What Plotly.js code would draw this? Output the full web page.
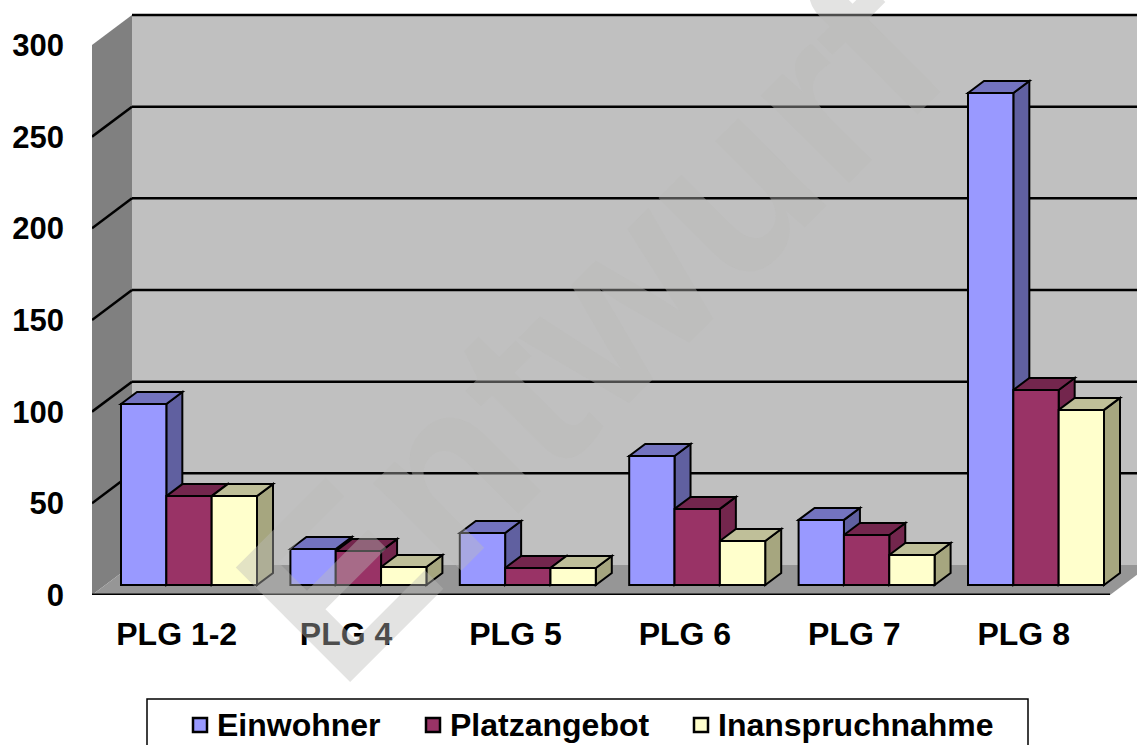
<!DOCTYPE html>
<html><head><meta charset="utf-8">
<script src="https://cdn.plot.ly/plotly-3.0.1.min.js"></script>
<style>html,body{margin:0;padding:0;background:#fff;overflow:hidden;width:1137px;height:745px}#c{width:1137px;height:800px}</style>
</head><body><div id="c"></div>
<script>
const categories = ['PLG 1-2','PLG 4','PLG 5','PLG 6','PLG 7','PLG 8'];
const einwohner = [98.7,19.6,28.4,70.4,35.5,268.4];
const platzangebot = [48.5,18.5,9.3,41.5,27.3,106.4];
const inanspruchnahme = [48.5,9.8,9.3,24,16.4,95.5];
const yTicks = [0,50,100,150,200,250,300];
const seriesNames = ['Einwohner','Platzangebot','Inanspruchnahme'];
const frontColors = ['#9999ff','#993366','#ffffcc'];
const topColors = ['#7373bf','#73264d','#bfbf99'];
const sideColors = ['#6060a0','#73264d','#a6a67f'];
const allSeries = [einwohner,platzangebot,inanspruchnahme];
const legendSwatchX = [192,425,693];
const legendTextX = [216,449,717];

// geometry (pixels on the page -> axis units)
const W=1137,H=800,L=92,B=595;
const catPx=169.4, valPx=550/300;
const xRange=[-0.5,-0.5+(W-L)/catPx], yRange=[0,B/valPx];
const shiftX=12.3/catPx, shiftY=10/valPx;
const x2Range=[xRange[0]-shiftX,xRange[1]-shiftX], y2Range=[-shiftY,yRange[1]-shiftY];
const wallDx=40/catPx, wallDy=30/valPx;
const barDx=16/catPx, barDy=12/valPx;
const barW=(136/catPx)/3;

const path=p=>'M'+p.map(q=>q[0]+','+q[1]).join('L')+'Z';
const shapes=[];
const poly=(pts,fill,xref,yref,lw,lc)=>shapes.push({type:'path',path:path(pts),xref,yref,fillcolor:fill,layer:'below',line:{width:lw||0,color:lc||'rgba(0,0,0,0)'}});
const xL=xRange[0], xR=xL+1018/catPx, xFar=xR+wallDx;
// back wall, side wall, floor
poly([[xL+wallDx,wallDy],[xFar,wallDy],[xFar,300+wallDy],[xL+wallDx,300+wallDy]],'#c0c0c0','x','y');
poly([[xL,0],[xL+wallDx,wallDy],[xL+wallDx,300+wallDy],[xL,300]],'#808080','x','y');
poly([[xL,0],[xR,0],[xFar,wallDy],[xL+wallDx,wallDy]],'#969696','x','y');
// gridlines
yTicks.slice(1).forEach(v=>{
  shapes.push({type:'line',layer:'below',xref:'x',yref:'y',x0:xL+wallDx,x1:xFar,y0:v+wallDy,y1:v+wallDy,line:{color:'#000',width:2.5}});
  if(v<300) shapes.push({type:'line',layer:'below',xref:'x',yref:'y',x0:xL,x1:xL+wallDx,y0:v,y1:v+wallDy,line:{color:'#000',width:2.5}});
});
shapes.push({type:'line',layer:'below',xref:'x',yref:'y',x0:xL,x1:xR,y0:0,y1:0,line:{color:'#000',width:3}});
// 3D faces of the bars, computed from values
categories.forEach((c,i)=>{
  allSeries.forEach((s,j)=>{
    const x0=i+(j-1.5)*barW, x1=x0+barW, v=s[i];
    poly([[x1,v],[x1+barDx,v+barDy],[x1+barDx,barDy],[x1,0]],sideColors[j],'x2','y2',2,'#000');
    poly([[x0,v],[x0+barDx,v+barDy],[x1+barDx,v+barDy],[x1,v]],topColors[j],'x2','y2',2,'#000');
  });
});
// legend frame and swatches
const px=v=>(v-L)/(W-L), py=v=>(B-v)/B;
shapes.push({type:'rect',xref:'paper',yref:'paper',x0:px(147),x1:px(1028),y0:py(699),y1:py(790),layer:'above',line:{color:'#000',width:1.5},fillcolor:'rgba(0,0,0,0)'});
legendSwatchX.forEach((x,j)=>shapes.push({type:'rect',xref:'paper',yref:'paper',x0:px(x+1),x1:px(x+15),y0:py(718),y1:py(732),layer:'above',line:{color:'#000',width:2.5},fillcolor:frontColors[j]}));

const traces=allSeries.map((s,j)=>({type:'bar',name:seriesNames[j],x:categories,y:s,xaxis:'x2',yaxis:'y2',showlegend:false,
  marker:{color:frontColors[j],line:{color:'#000',width:2}},hoverinfo:'skip'}));
traces.unshift({type:'scatter',mode:'none',x:[0],y:[0],xaxis:'x',yaxis:'y',showlegend:false,hoverinfo:'skip'});

const fontBold='"Liberation Sans",Arial,sans-serif';
const legendAnn=seriesNames.map((n,j)=>({text:'<b>'+n+'</b>',xref:'paper',yref:'paper',x:px(legendTextX[j]),y:py(725),xanchor:'left',yanchor:'middle',showarrow:false,borderpad:0,
  font:{size:32,color:'#000',family:fontBold}}));
Plotly.newPlot('c',traces,{
  width:W,height:H,margin:{l:L,r:0,t:0,b:H-B,pad:0},showlegend:false,
  paper_bgcolor:'#fff',plot_bgcolor:'#fff',barmode:'group',bargap:1-136/catPx,bargroupgap:0,
  font:{family:fontBold,color:'#000'},
  xaxis:{type:'linear',range:xRange,tickmode:'array',tickvals:categories.map((_,i)=>i),ticktext:categories.map(c=>'<b>'+c+'</b>'),
    showgrid:false,zeroline:false,showline:false,ticks:'',tickfont:{size:32,color:'#000'},ticklabelstandoff:17,tickangle:0},
  yaxis:{range:yRange,tickmode:'array',tickvals:yTicks,ticktext:yTicks.map(v=>'<b>'+v+'</b>'),
    showgrid:false,zeroline:false,showline:false,ticks:'',tickfont:{size:31,color:'#000'},ticklabelstandoff:27},
  xaxis2:{type:'category',overlaying:'x',range:x2Range,visible:false,anchor:'y2',categoryorder:'array',categoryarray:categories},
  yaxis2:{overlaying:'y',range:y2Range,visible:false,anchor:'x2'},
  shapes,
  annotations:legendAnn.concat([{text:'<b>Entwurf</b>',xref:'paper',yref:'paper',x:px(590),y:py(326),xanchor:'center',yanchor:'middle',showarrow:false,
    textangle:-45,font:{size:235,color:'rgba(188,188,184,0.41)',family:fontBold}}])
},{displayModeBar:false,staticPlot:true});
</script></body></html>
